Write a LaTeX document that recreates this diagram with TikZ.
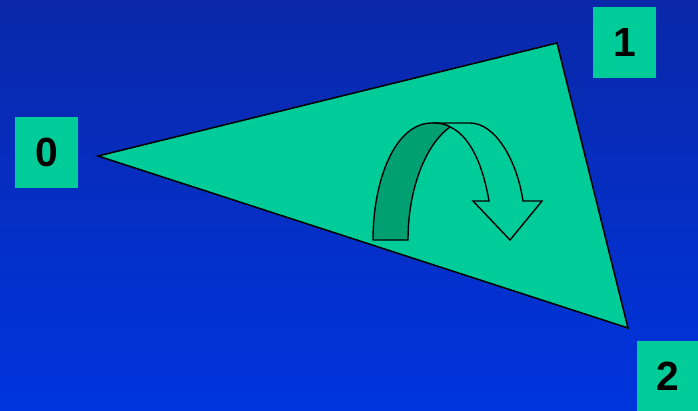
\documentclass[tikz,border=0pt]{standalone}
\usepackage{fontspec}
\setmainfont{Liberation Sans}
\usetikzlibrary{positioning}
\definecolor{bgtop}{RGB}{10,40,168}
\definecolor{bgbot}{RGB}{0,52,222}
\definecolor{mint}{RGB}{0,204,153}
\definecolor{mintdark}{RGB}{0,160,115}
\begin{document}
\begin{tikzpicture}[x=0.025cm,y=-0.025cm,
  numbox/.style={fill=mint,minimum width=63*0.025cm,minimum height=71*0.025cm,
    inner sep=0pt,font=\fontsize{29}{30}\selectfont\bfseries}]
\shade[top color=bgtop,bottom color=bgbot] (0,0) rectangle (698,410);
\useasboundingbox (0,0) rectangle (698,410);
\coordinate (v0) at (98,156);
\coordinate (v1) at (557,43);
\coordinate (v2) at (628,328);
\draw[fill=mint,line width=1.1pt,line join=miter] (v0)--(v1)--(v2)--cycle;
\draw[fill=mint,line width=1pt] (432,123)--(470,123) .. controls (495,123) and (517,160) .. (523,201)
  --(542,201)--(510,240)--(473,201)--(489,201) .. controls (482,160) and (468,135) .. (450,127)
  .. controls (445,124) and (440,123) .. (432,123)--cycle;
\draw[fill=mintdark,line width=1pt] (373,240) .. controls (373,180) and (395,123) .. (432,123)
  .. controls (442,123) and (447,125) .. (450,127) .. controls (425,145) and (408,190) .. (408,240)--cycle;
\node[numbox] (n0) at (46.5,152.5) {0};
\node[numbox] (n1) at (624.5,42) {1};
\node[numbox] (n2) at (668,376) {2};
\end{tikzpicture}
\end{document}
